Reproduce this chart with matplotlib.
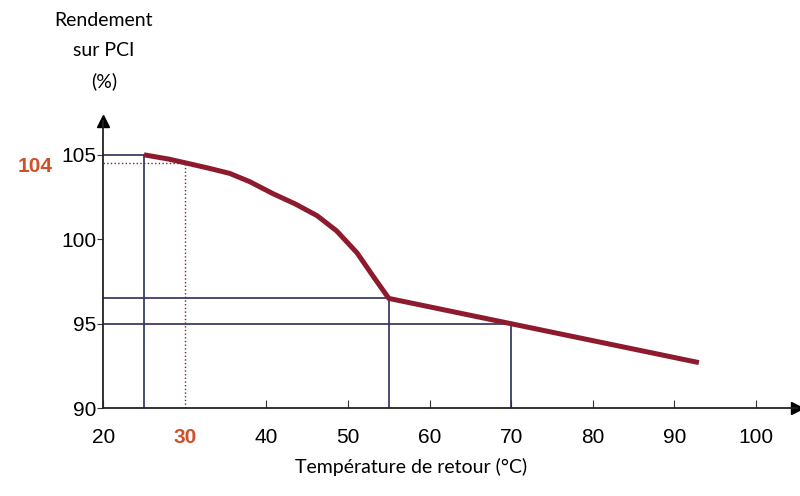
import numpy as np
import matplotlib.pyplot as plt

# courbe rendement
temp = [25, 28, 30.3, 33, 35.5, 38, 40.8, 43.5, 46.2, 48.6, 51.1, 53.1, 55, 70, 93]
rend = [105, 104.75, 104.5, 104.2, 103.9, 103.4, 102.7, 102.1, 101.4, 100.5, 99.2, 97.8, 96.5, 95.0, 92.7]

# lignes de repere
ref_pts = [(25, 105), (55, 96.5), (70, 95)]
dot_pt = (30, 104.5)

xticks = [20, 30, 40, 50, 60, 70, 80, 90, 100]
yticks = [90, 95, 100, 105]

navy = "#2a2d5c"
red = "#d0502a"
fs = 15

fig = plt.figure(figsize=(8, 4.96), dpi=100)
ax = fig.add_axes([0.129, 0.177, 0.867, 0.579])

for x, y in ref_pts:
    ax.plot([20, x], [y, y], color=navy, lw=1.2)
    ax.plot([x, x], [90, y], color=navy, lw=1.2)
ax.plot([20, dot_pt[0]], [dot_pt[1], dot_pt[1]], color="#7a2030", lw=1.0, ls=":")
ax.plot([dot_pt[0], dot_pt[0]], [90, dot_pt[1]], color="#7a2030", lw=1.0, ls=":")

ax.plot(temp, rend, color="#8e1a2e", lw=3.6, solid_capstyle="butt",
        solid_joinstyle="round", zorder=5)

ax.set_xlim(20, 105)
ax.set_ylim(90, 107)
for s in ["top", "right"]:
    ax.spines[s].set_visible(False)
for s in ["left", "bottom"]:
    ax.spines[s].set_linewidth(1.3)
    ax.spines[s].set_color("#222222")
ax.plot(1, 0, ">", color="black", ms=8, transform=ax.transAxes, clip_on=False)
ax.plot(0, 1, "^", color="black", ms=8, transform=ax.transAxes, clip_on=False)

ax.set_xticks(xticks)
ax.set_xticklabels([str(t) for t in xticks], fontsize=fs, family="Liberation Sans")
ax.set_yticks(yticks)
ax.set_yticklabels([str(t) for t in yticks], fontsize=fs, family="Liberation Sans")
ax.tick_params(axis="x", direction="in", length=6, pad=14, color="#333333")
ax.tick_params(axis="y", direction="out", length=4, pad=1, color="#333333")
lab30 = ax.get_xticklabels()[1]
lab30.set_color(red)
lab30.set_fontweight("bold")
ax.xaxis.get_major_ticks()[1].tick1line.set_visible(False)

ax.text(13.8, 104.3, "104", color=red, fontsize=fs, fontweight="bold",
        family="Liberation Sans", ha="right", va="center")

fig.text(0.514, 0.058, "Température de retour (°C)", fontsize=14, family="Lato",
         ha="center", va="center")
fig.text(0.13, 0.975, "Rendement\nsur PCI\n(%)", fontsize=14, family="Lato",
         ha="center", va="top", linespacing=1.9)

fig.savefig("out.png", dpi=100)
